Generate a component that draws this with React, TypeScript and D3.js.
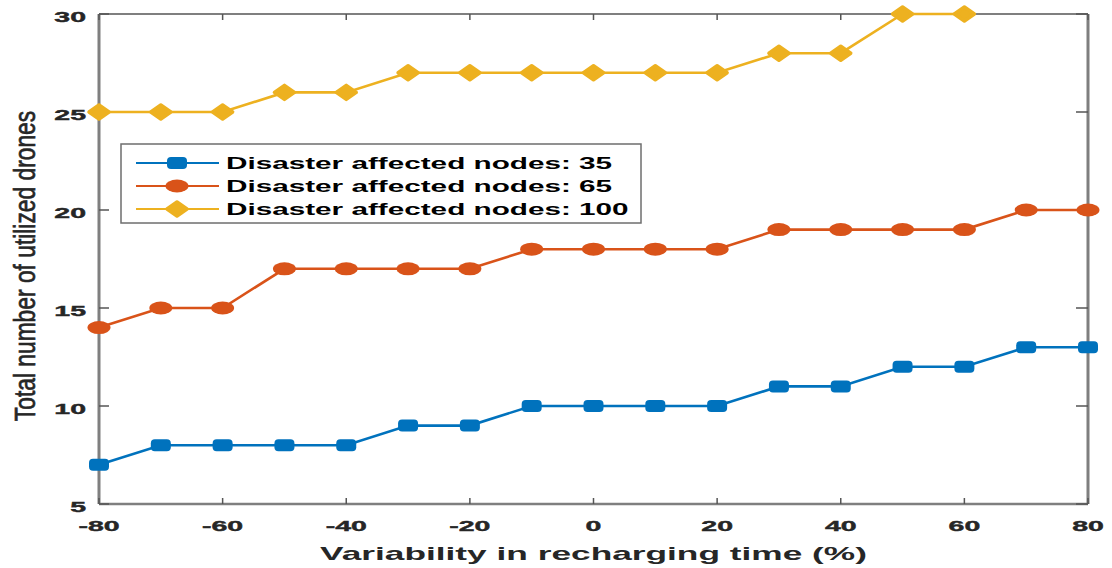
import React from "react";
import * as d3 from "d3";

// ---- data ----
const variability = [-80, -70, -60, -50, -40, -30, -20, -10, 0, 10, 20, 30, 40, 50, 60, 70, 80];
const nodes35 = [7, 8, 8, 8, 8, 9, 9, 10, 10, 10, 10, 11, 11, 12, 12, 13, 13];
const nodes65 = [14, 15, 15, 17, 17, 17, 17, 18, 18, 18, 18, 19, 19, 19, 19, 20, 20];
// last two points lie above the axis limit (not visible in the figure)
const nodes100 = [25, 25, 25, 26, 26, 27, 27, 27, 27, 27, 27, 28, 28, 30, 30, NaN, NaN];
const seriesNames = ["Disaster affected nodes: 35", "Disaster affected nodes: 65", "Disaster affected nodes: 100"];
const xTicks = [-80, -60, -40, -20, 0, 20, 40, 60, 80];
const yTicks = [5, 10, 15, 20, 25, 30];
const xLabel = "Variability in recharging time (%)";
const yLabel = "Total number of utilized drones";

const W = 1112, H = 568;
const L = 99, R = 1088, T = 14, B = 504;
const colors = ["#0072BD", "#D95319", "#EDB120"];
const FONT = "'Liberation Sans', Arial, Helvetica, sans-serif";

function Marker({ kind, x, y, color }: { kind: number; x: number; y: number; color: string }) {
  if (kind === 0) {
    return <rect x={x - 10} y={y - 6} width={20} height={12} rx={4} ry={4} fill={color} />;
  }
  if (kind === 1) {
    return <ellipse cx={x} cy={y} rx={11.5} ry={6.5} fill={color} />;
  }
  const p = `M${x - 10},${y} L${x},${y - 7} L${x + 10},${y} L${x},${y + 7} Z`;
  return <path d={p} fill={color} stroke={color} strokeWidth={3.5} strokeLinejoin="round" />;
}

export default function App() {
  const xs = d3.scaleLinear().domain([-80, 80]).range([L, R]);
  const ys = d3.scaleLinear().domain([5, 30]).range([B, T]);
  const all = [nodes35, nodes65, nodes100];

  const line = d3
    .line<[number, number]>()
    .defined((d) => !isNaN(d[1]))
    .x((d) => xs(d[0]))
    .y((d) => ys(d[1]));

  const legendRows = [163, 186, 209];

  return (
    <svg width={W} height={H} style={{ position: "absolute", left: 0, top: 0, background: "#fff" }}>
      <defs>
        <clipPath id="plotclip">
          <rect x={L - 2} y={T - 3} width={R - L + 4} height={B - T + 5} />
        </clipPath>
      </defs>
      <rect x={0} y={0} width={W} height={H} fill="#fff" />

      {/* axes box */}
      <g stroke="#7f7f7f" fill="none">
        <line x1={L} y1={T} x2={R} y2={T} strokeWidth={2} />
        <line x1={L} y1={B} x2={R} y2={B} strokeWidth={2.5} />
        <line x1={L} y1={T} x2={L} y2={B} strokeWidth={3} />
        <line x1={R} y1={T} x2={R} y2={B} strokeWidth={3} />
      </g>
      {/* ticks */}
      <g stroke="#555" strokeWidth={1.5}>
        {xTicks.map((t) => (
          <g key={"xt" + t}>
            <line x1={xs(t)} x2={xs(t)} y1={B} y2={B - 6} />
            <line x1={xs(t)} x2={xs(t)} y1={T} y2={T + 6} />
          </g>
        ))}
        {yTicks.map((t) => (
          <g key={"yt" + t}>
            <line x1={L} x2={L + 10} y1={ys(t)} y2={ys(t)} />
            <line x1={R} x2={R - 12} y1={ys(t)} y2={ys(t)} />
          </g>
        ))}
      </g>

      {/* tick labels */}
      <g fontFamily={FONT} fontWeight="bold" fontSize={15} fill="#262626" stroke="#262626" strokeWidth={0.4}>
        {xTicks.map((t) => (
          <text key={"xl" + t} textAnchor="middle" transform={`translate(${xs(t)},531) scale(1.9,1)`}>
            {t}
          </text>
        ))}
        {yTicks.map((t) => (
          <text key={"yl" + t} textAnchor="end" transform={`translate(86,${ys(t) + 7.5}) scale(1.9,1)`}>
            {t}
          </text>
        ))}
      </g>

      {/* axis labels */}
      <text
        fontFamily={FONT}
        fontWeight="bold"
        fontSize={18}
        fill="#262626"
        textAnchor="middle"
        transform={`translate(${(L + R) / 2},560) scale(1.96,1)`}
      >
        {xLabel}
      </text>
      <text
        fontFamily={FONT}
        fontSize={22.8}
        fill="#262626"
        stroke="#262626"
        strokeWidth={0.5}
        textAnchor="middle"
        transform={`translate(35,266) scale(1.33,1) rotate(-90)`}
      >
        {yLabel}
      </text>

      {/* series */}
      {all.map((vals, si) => {
        const pts: [number, number][] = variability.map((v, i) => [v, vals[i]]);
        return (
          <g key={"s" + si}>
            <path d={line(pts) || ""} fill="none" stroke={colors[si]} strokeWidth={2.6} clipPath="url(#plotclip)" />
            {pts
              .filter((p) => !isNaN(p[1]) && p[1] <= 30 && p[1] >= 5)
              .map((p, i) => (
                <Marker key={i} kind={si} x={xs(p[0])} y={ys(p[1])} color={colors[si]} />
              ))}
          </g>
        );
      })}

      {/* legend */}
      <rect x={121} y={144} width={520} height={79} fill="#fff" stroke="#6e6e6e" strokeWidth={1.5} />
      {seriesNames.map((name, i) => (
        <g key={"lg" + i}>
          <line x1={136} x2={219} y1={legendRows[i]} y2={legendRows[i]} stroke={colors[i]} strokeWidth={2.2} />
          <Marker kind={i} x={177} y={legendRows[i]} color={colors[i]} />
          <text
            fontFamily={FONT}
            fontWeight="bold"
            fontSize={16.5}
            fill="#000"
            transform={`translate(226,${legendRows[i] + 6}) scale(1.8,1)`}
          >
            {name}
          </text>
        </g>
      ))}
    </svg>
  );
}
